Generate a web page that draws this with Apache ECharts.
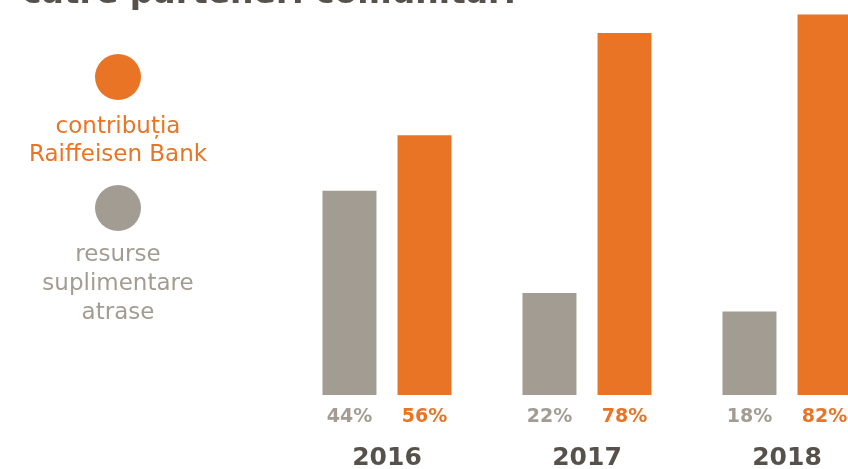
<!DOCTYPE html>
<html>
<head>
<meta charset="utf-8">
<script src="https://cdn.jsdelivr.net/npm/echarts@6/dist/echarts.min.js"></script>
<style>
  html, body { margin: 0; padding: 0; background: #fff; }
  #chart { width: 848px; height: 469px; }
</style>
</head>
<body>
<div id="chart"></div>
<script>
const years = ['2016', '2017', '2018'];
const seriesNames = ['resurse\nsuplimentare\natrase', 'contribuția\nRaiffeisen Bank'];
const extra = [44, 22, 18];
const raiffeisen = [56, 78, 82];
const titleText = 'către parteneri comunitari';

const ORANGE = '#ea7425';
const GREY = '#a39c92';
const DARK = '#57514c';
const FONT = '"DejaVu Sans", sans-serif';

const chart = echarts.init(document.getElementById('chart'));

function pctLabel(color) {
  return {
    show: true,
    position: 'bottom',
    distance: 13,
    formatter: '{c}%',
    color: color,
    fontFamily: FONT,
    fontWeight: 'bold',
    fontSize: 19
  };
}

chart.setOption({
  animation: false,
  grid: { left: 287, width: 600, bottom: 74, height: 464, outerBoundsMode: 'none', containLabel: false },
  xAxis: {
    type: 'category',
    data: years,
    axisLine: { show: false },
    axisTick: { show: false },
    axisLabel: {
      margin: 51,
      color: DARK,
      fontFamily: FONT,
      fontWeight: 'bold',
      fontSize: 25
    }
  },
  yAxis: {
    type: 'value',
    min: 0,
    max: 100,
    show: false,
    splitLine: { show: false }
  },
  series: [
    {
      name: seriesNames[0],
      type: 'bar',
      data: extra,
      barWidth: 54,
      barGap: '39%',
      itemStyle: { color: GREY },
      label: pctLabel(GREY)
    },
    {
      name: seriesNames[1],
      type: 'bar',
      data: raiffeisen,
      barWidth: 54,
      itemStyle: { color: ORANGE },
      label: pctLabel(ORANGE)
    }
  ],
  graphic: [
    {
      type: 'text', x: 22, y: 7,
      style: {
        text: titleText, fill: DARK, font: 'bold 33px ' + FONT,
        verticalAlign: 'bottom', lineHeight: 25
      }
    },
    { type: 'circle', shape: { cx: 118, cy: 77, r: 23 }, style: { fill: ORANGE } },
    {
      type: 'text', x: 118, y: 113,
      style: {
        text: seriesNames[1], fill: ORANGE, font: '23px ' + FONT,
        align: 'center', lineHeight: 28
      }
    },
    { type: 'circle', shape: { cx: 118, cy: 208, r: 23 }, style: { fill: GREY } },
    {
      type: 'text', x: 118, y: 241,
      style: {
        text: seriesNames[0], fill: GREY, font: '23px ' + FONT,
        align: 'center', lineHeight: 29
      }
    }
  ]
});
</script>
</body>
</html>
